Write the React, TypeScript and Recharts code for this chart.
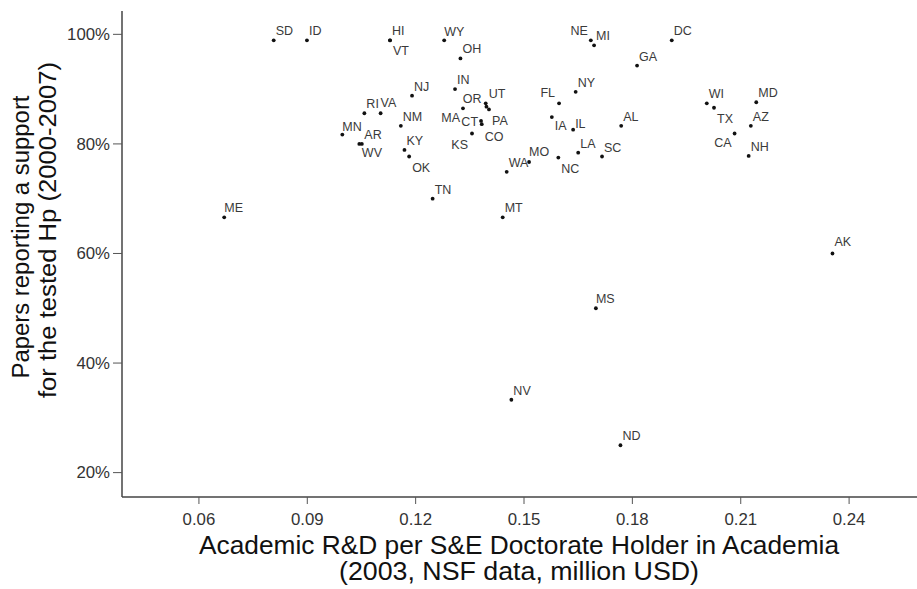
import { ScatterChart, Scatter, XAxis, YAxis } from 'recharts'

const states = [
  'SD', 'ID', 'HI', 'VT', 'WY', 'OH', 'NE', 'MI', 'DC', 'GA',
  'NJ', 'IN', 'NY', 'RI', 'VA', 'MN', 'AR', 'WV', 'NM', 'KY',
  'OK', 'TN', 'MA', 'UT', 'OR', 'PA', 'CT', 'CO', 'KS', 'FL',
  'IA', 'IL', 'AL', 'LA', 'SC', 'NC', 'MO', 'WA', 'MT', 'WI',
  'TX', 'MD', 'AZ', 'CA', 'NH', 'AK', 'MS', 'NV', 'ND', 'ME',
]

// academic R&D per S&E doctorate holder (million USD, 2003)
const rdPerDoctorate = [
  0.0807, 0.0899, 0.1129, 0.1129, 0.1279, 0.1324, 0.1685, 0.1694, 0.1909, 0.1813,
  0.119, 0.1309, 0.1643, 0.1058, 0.1103, 0.0997, 0.1044, 0.1051, 0.1159, 0.1169,
  0.1182, 0.1247, 0.1331, 0.1394, 0.1396, 0.1403, 0.1381, 0.1383, 0.1356, 0.1597,
  0.1577, 0.1636, 0.1769, 0.165, 0.1716, 0.1595, 0.1514, 0.1452, 0.1441, 0.2006,
  0.2026, 0.2143, 0.2128, 0.2083, 0.2122, 0.2354, 0.1699, 0.1465, 0.1767, 0.067,
]

// % of papers reporting a support for the tested hypothesis (2000-2007)
const supportShare = [
  98.9, 98.9, 98.9, 98.9, 98.9, 95.6, 98.9, 98.0, 98.9, 94.3,
  88.8, 90.0, 89.5, 85.6, 85.6, 81.7, 80.0, 80.0, 83.3, 78.9,
  77.7, 70.0, 86.5, 87.4, 86.8, 86.3, 84.2, 83.6, 81.9, 87.4,
  84.9, 82.6, 83.3, 78.4, 77.7, 77.5, 76.7, 74.9, 66.6, 87.4,
  86.6, 87.6, 83.3, 81.9, 77.8, 60.0, 50.0, 33.3, 25.0, 66.6,
]

const xTicks = [0.06, 0.09, 0.12, 0.15, 0.18, 0.21, 0.24]
const yTicks = [20, 40, 60, 80, 100]

const data = states.map((state, i) => ({ state, x: rdPerDoctorate[i], y: supportShare[i] }))

// where each label sits relative to its dot (most go up-right)
type Placement = { anchor: 'start' | 'end'; dx: number; dy: number }
const defaultPlacement: Placement = { anchor: 'start', dx: 2, dy: -5 }
const labelPlacement: Record<string, Placement> = {
  VT: { anchor: 'start', dx: 3, dy: 15 },
  WV: { anchor: 'start', dx: 0, dy: 13 },
  OK: { anchor: 'start', dx: 3, dy: 15 },
  MA: { anchor: 'end', dx: -3, dy: 14 },
  OR: { anchor: 'end', dx: -5, dy: -4 },
  UT: { anchor: 'start', dx: 3, dy: -5 },
  PA: { anchor: 'start', dx: 3, dy: 16 },
  CT: { anchor: 'end', dx: -3, dy: 5 },
  CO: { anchor: 'start', dx: 3, dy: 17 },
  KS: { anchor: 'end', dx: -4, dy: 16 },
  FL: { anchor: 'end', dx: -4, dy: -6 },
  IA: { anchor: 'start', dx: 3, dy: 13 },
  IL: { anchor: 'start', dx: 2, dy: -2 },
  NC: { anchor: 'start', dx: 3, dy: 15 },
  NE: { anchor: 'end', dx: -3, dy: -5 },
  TX: { anchor: 'start', dx: 3, dy: 15 },
  CA: { anchor: 'end', dx: -3, dy: 14 },
  AR: { anchor: 'start', dx: 5, dy: -5 },
  AK: { anchor: 'start', dx: 2, dy: -7 },
  WY: { anchor: 'start', dx: 0, dy: -4 },
  MO: { anchor: 'start', dx: 0, dy: -6 },
  MS: { anchor: 'start', dx: 0, dy: -5 },
  ME: { anchor: 'start', dx: 0, dy: -5 },
  MN: { anchor: 'start', dx: 0, dy: -4 },
  VA: { anchor: 'start', dx: 0, dy: -6 },
}

const TEXT = '#333333'

function StatePoint(props: any) {
  const { cx, cy, payload } = props
  const p = labelPlacement[payload.state] ?? defaultPlacement
  return (
    <g>
      <circle cx={cx} cy={cy} r={1.9} fill="#111" />
      <text x={cx + p.dx} y={cy + p.dy} textAnchor={p.anchor} fontSize={12.5} fill="#3a3a3a">
        {payload.state}
      </text>
    </g>
  )
}

function XTick(props: any) {
  const { x, y, payload } = props
  return (
    <text
      transform={`translate(${x},${y + 21}) scale(1.05,1)`}
      textAnchor="middle"
      fontSize={16}
      fill={TEXT}
    >
      {payload.value.toFixed(2)}
    </text>
  )
}

function YTick(props: any) {
  const { x, y, payload } = props
  return (
    <text
      transform={`translate(${x},${y}) scale(1.05,1)`}
      textAnchor="end"
      dy="0.36em"
      fontSize={16}
      fill={TEXT}
    >
      {payload.value}%
    </text>
  )
}

function XTitle() {
  return (
    <g fill="#111" fontSize={25}>
      <text x={519} y={554} textAnchor="middle" textLength={640} lengthAdjust="spacingAndGlyphs">
        Academic R&amp;D per S&amp;E Doctorate Holder in Academia
      </text>
      <text x={519} y={580} textAnchor="middle" textLength={360} lengthAdjust="spacingAndGlyphs">
        (2003, NSF data, million USD)
      </text>
    </g>
  )
}

function YTitle() {
  return (
    <g fill="#111" fontSize={23}>
      <text transform="translate(29,237) rotate(-90)" textAnchor="middle" textLength={283} lengthAdjust="spacingAndGlyphs">
        Papers reporting a support
      </text>
      <text transform="translate(56,230) rotate(-90)" textAnchor="middle" textLength={336} lengthAdjust="spacingAndGlyphs">
        for the tested Hp (2000-2007)
      </text>
    </g>
  )
}

export default function App() {
  return (
    <div
      style={{
        position: 'absolute',
        left: 0,
        top: 0,
        width: 917,
        height: 589,
        background: '#fff',
        fontFamily: '"Liberation Sans", Arial, Helvetica, sans-serif',
      }}
    >
      <ScatterChart width={917} height={589} margin={{ top: 11, right: 0, bottom: 0, left: 0 }}>
        <XAxis
          type="number"
          dataKey="x"
          domain={[0.0387, 0.2588]}
          ticks={xTicks}
          allowDataOverflow
          height={92}
          tickSize={7}
          tickMargin={0}
          axisLine={{ stroke: '#444', strokeWidth: 1.5 }}
          tickLine={{ stroke: '#555' }}
          tick={<XTick />}
          label={<XTitle />}
        />
        <XAxis
          xAxisId="top"
          orientation="top"
          type="number"
          dataKey="x"
          domain={[0.0387, 0.2588]}
          allowDataOverflow
          height={0}
          tick={false}
          tickLine={false}
          axisLine={{ stroke: '#aaa', strokeWidth: 1.5 }}
        />
        <YAxis
          type="number"
          dataKey="y"
          domain={[15.55, 104.26]}
          ticks={yTicks}
          allowDataOverflow
          width={122}
          tickSize={9}
          tickMargin={3}
          axisLine={{ stroke: '#444', strokeWidth: 1.5 }}
          tickLine={{ stroke: '#555' }}
          tick={<YTick />}
          label={<YTitle />}
        />
        <Scatter data={data} shape={<StatePoint />} isAnimationActive={false} />
      </ScatterChart>
    </div>
  )
}
